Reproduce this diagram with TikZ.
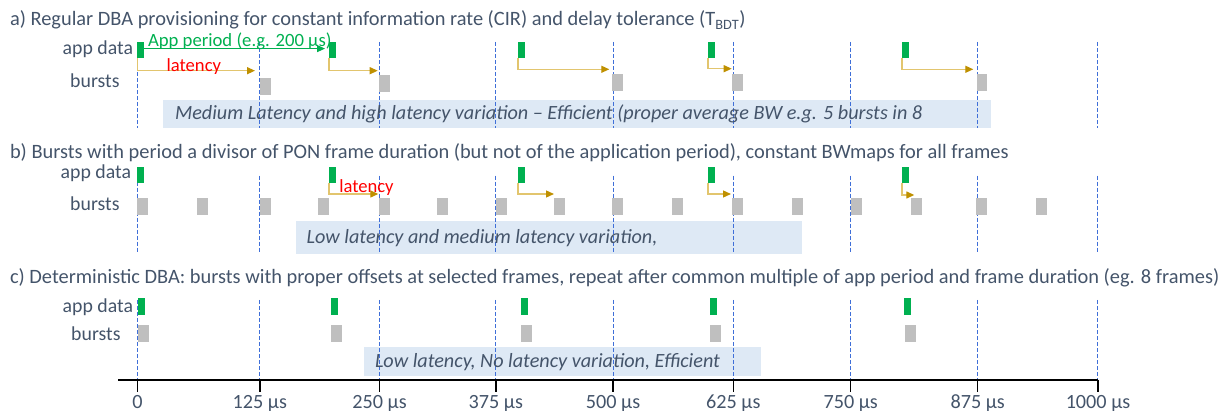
\documentclass[tikz,border=0pt]{standalone}
\usepackage{fontspec}
\setmainfont{Carlito}
\usetikzlibrary{arrows.meta}
\definecolor{txt}{HTML}{44546A}
\definecolor{appg}{HTML}{00B050}
\definecolor{burstg}{HTML}{BFBFBF}
\definecolor{gold}{HTML}{BF9000}
\definecolor{goldl}{HTML}{E2C56E}
\definecolor{vblue}{HTML}{3F6FD8}
\definecolor{boxb}{HTML}{DEE9F5}
\begin{document}
\begin{tikzpicture}[x=1pt,y=-1pt,
  every node/.style={inner sep=0pt, outer sep=0pt},
  title/.style={anchor=base west, text=txt, font=\fontsize{20.4}{24}\selectfont},
  rowlab/.style={anchor=base east, text=txt, font=\fontsize{19.8}{23}\selectfont},
  appbar/.style={anchor=north west, fill=appg, minimum width=7pt, minimum height=16pt},
  burst/.style={anchor=north west, fill=burstg, minimum width=11pt, minimum height=16.7pt},
  note/.style={fill=boxb, anchor=north west},
  notetext/.style={anchor=base west, text=txt, font=\fontsize{20.2}{24}\selectfont\itshape},
  vline/.style={draw=vblue, dash pattern=on 4pt off 2pt, line width=1pt},
  lat/.style={draw=goldl, line width=1.3pt, -{Triangle[length=8pt,width=7pt,color=gold]}},
  period/.style={draw=appg, line width=1pt, -{Triangle[length=8pt,width=7pt]}},
  redlab/.style={anchor=base west, text=red, font=\fontsize{18.6}{22}\selectfont},
  greenlab/.style={anchor=base west, text=appg, font=\fontsize{18.7}{22}\selectfont},
  ticklab/.style={text=txt, font=\fontsize{20.2}{24}\selectfont, anchor=base},
  axisline/.style={draw=black, line width=1.5pt},
]
\useasboundingbox (0,0) rectangle (1225,411);

% ---------- note boxes ----------
\node[note, minimum width=828pt, minimum height=27.7pt] (boxa) at (162.7,100) {};
\node[note, minimum width=506pt, minimum height=32.7pt] (boxb) at (296,221) {};
\node[note, minimum width=397pt, minimum height=28.4pt] (boxc) at (364,347.3) {};

% ---------- dashed frame lines ----------
\foreach \x in {137.5,259.8,379.5,495.8,613,733.3,850.7,977,1097} {
  \draw[vline] (\x,42) -- (\x,128);
  \draw[vline] (\x,175.7) -- (\x,253.3);
  \draw[vline] (\x,300) -- (\x,380);
}

% ---------- titles ----------
\node[title] (ta) at (10,26) {a) Regular DBA provisioning for constant information rate (CIR) and delay tolerance (T\textsubscript{BDT})};
\node[title] (tb) at (10,158.3) {b) Bursts with period a divisor of PON frame duration (but not of the application period), constant BWmaps for all frames};
\node[title] (tc) at (10,284) {c) Deterministic DBA: bursts with proper offsets at selected frames, repeat after common multiple of app period and frame duration (eg. 8 frames)};

% ---------- row labels ----------
\node[rowlab] (la1) at (133,55) {app data};
\node[rowlab] (la2) at (119.5,87.3) {bursts};
\node[rowlab] (lb1) at (131,179) {app data};
\node[rowlab] (lb2) at (119.5,211) {bursts};
\node[rowlab] (lc1) at (133,312.3) {app data};
\node[rowlab] (lc2) at (120.5,340) {bursts};

% ---------- section a ----------
\node[appbar] (a1) at (137.3,42.3) {};
\node[appbar] (a2) at (329,42.3) {};
\node[appbar] (a3) at (518,42) {};
\node[appbar] (a4) at (708,42) {};
\node[appbar] (a5) at (902,42) {};
\node[burst, minimum width=10.7pt] (ba1) at (260,78.3) {};
\node[burst, minimum width=10.7pt] (ba2) at (379.3,75) {};
\node[burst, minimum width=10.7pt] (ba3) at (612,74) {};
\node[burst, minimum width=10.7pt] (ba4) at (732.3,74) {};
\node[burst, minimum width=10.7pt] (ba5) at (976.7,74) {};

\coordinate (ea1) at (255,70.7);
\coordinate (ea2) at (377.7,70.7);
\coordinate (ea3) at (609.3,69.3);
\coordinate (ea4) at (731.7,68.7);
\coordinate (ea5) at (973.3,69.3);
\draw[lat] (a1.south west) |- (ea1);
\draw[lat] (a2.south west) |- (ea2);
\draw[lat] (a3.south west) |- (ea3);
\draw[lat] (a4.south west) |- (ea4);
\draw[lat] (a5.south west) |- (ea5);
\draw[period] ([yshift=1.7pt]a1.east) -- ([yshift=1.7pt,xshift=-4pt]a2.west);
\node[greenlab] (perlab) at (148,46.7) {App period (e.g. 200 µs)};
\node[redlab] (latlaba) at (166.7,71.5) {latency};
\node[notetext] (nta) at (175,120) {Medium Latency and high latency variation – Efficient (proper average BW e.g. 5 bursts in 8};

% ---------- section b ----------
\node[appbar] (b1) at (137.3,167.3) {};
\node[appbar] (b2) at (329,167.3) {};
\node[appbar] (b3) at (518,167.3) {};
\node[appbar] (b4) at (708,167.3) {};
\node[appbar] (b5) at (902,167.3) {};
\foreach \x [count=\i] in {137.3,197.3,259.7,318.3,379.3,437,496,554,612.3,672,732.3,792,851,911,976,1036} {
  \node[burst] (bb\i) at (\x,198.3) {};
}
\coordinate (eb2) at (378.3,194);
\coordinate (eb3) at (554,194);
\coordinate (eb4) at (731,194);
\coordinate (eb5) at (914.3,195);
\draw[lat] (b2.south west) |- (eb2);
\draw[lat] (b3.south west) |- (eb3);
\draw[lat] (b4.south west) |- (eb4);
\draw[lat] (b5.south west) |- (eb5);
\node[redlab] (latlabb) at (339.3,192.3) {latency};
\node[notetext] (ntb) at (306.7,243.3) {Low latency and medium latency variation,};

% ---------- section c ----------
\node[appbar, minimum height=16.7pt] (c1) at (138.3,298) {};
\node[appbar, minimum height=16.7pt] (c2) at (331,298) {};
\node[appbar, minimum height=16.7pt] (c3) at (521,298) {};
\node[appbar, minimum height=16.7pt] (c4) at (710,298) {};
\node[appbar, minimum height=16.7pt] (c5) at (904,298) {};
\node[burst] (bc1) at (138.3,325) {};
\node[burst] (bc2) at (331,325) {};
\node[burst] (bc3) at (521,325) {};
\node[burst] (bc4) at (710,325) {};
\node[burst] (bc5) at (905,325) {};
\node[notetext] (ntc) at (375,367.5) {Low latency, No latency variation, Efficient};

% ---------- time axis ----------
\draw[axisline] (118.3,380) -- (1098.3,380);
\foreach \x/\l in {137.5/0,259.8/125 µs,379.5/250 µs,495.8/375 µs,613/500 µs,733.3/625 µs,850.7/750 µs,977.7/875 µs,1098/1000 µs} {
  \draw[axisline] (\x,380) -- (\x,391.7);
  \node[ticklab] at (\x,408.3) {\l};
}
\end{tikzpicture}
\end{document}
